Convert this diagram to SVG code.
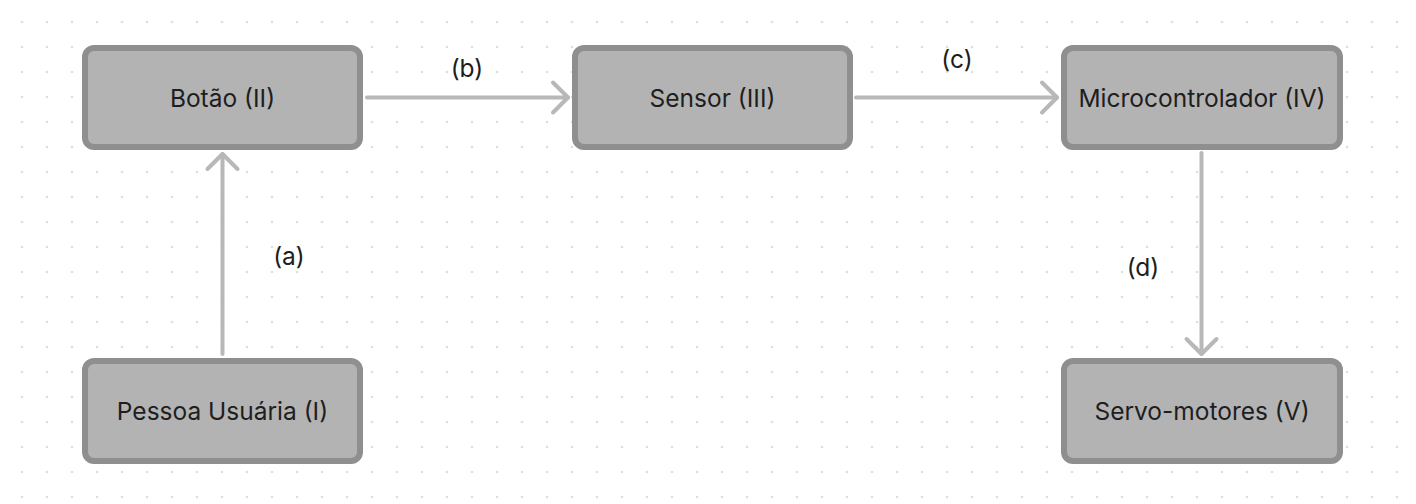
<svg xmlns="http://www.w3.org/2000/svg" width="1416" height="504" viewBox="0 0 1416 504">
  <style>
    .node rect { fill: #b3b3b3; stroke: #8f8f8f; stroke-width: 6; }
    text { font-family: Inter, "Noto Sans", "Liberation Sans", sans-serif; font-size: 24.5px; fill: #1e1e1e; text-anchor: middle; }
    .conn line { stroke: #b8b8b8; stroke-width: 4; stroke-linecap: round; }
  </style>
  <defs>
    <pattern id="dots" patternUnits="userSpaceOnUse" width="25" height="25">
      <circle cx="22" cy="22" r="1.3" fill="#dedede"/>
    </pattern>
    <marker id="arrow" markerUnits="userSpaceOnUse" viewBox="-20 -20 40 40" refX="0" refY="0" markerWidth="40" markerHeight="40" orient="auto">
      <path d="M-15,-15 L0,0 L-15,15" fill="none" stroke="#b8b8b8" stroke-width="4" stroke-linecap="round" stroke-linejoin="round"/>
    </marker>
  </defs>
  <rect width="1416" height="504" fill="#ffffff"/>
  <rect width="1416" height="504" fill="url(#dots)"/>

  <g id="connectors" class="conn">
    <line x1="222.5" y1="354" x2="222.5" y2="154" marker-end="url(#arrow)"/>
    <line x1="367" y1="97.5" x2="568" y2="97.5" marker-end="url(#arrow)"/>
    <line x1="856" y1="97.5" x2="1057" y2="97.5" marker-end="url(#arrow)"/>
    <line x1="1201.5" y1="153" x2="1201.5" y2="354" marker-end="url(#arrow)"/>
  </g>

  <g id="labels">
    <text x="289" y="264.5">(a)</text>
    <text x="467" y="76.5">(b)</text>
    <text x="957" y="67.5">(c)</text>
    <text x="1143" y="276">(d)</text>
  </g>

  <g id="node-botao" class="node">
    <rect x="85" y="48" width="275" height="99" rx="9"/>
    <text x="222.5" y="106.5">Botão (II)</text>
  </g>
  <g id="node-sensor" class="node">
    <rect x="575" y="48" width="275" height="99" rx="9"/>
    <text x="712.5" y="106.5">Sensor (III)</text>
  </g>
  <g id="node-micro" class="node">
    <rect x="1064" y="48" width="276" height="99" rx="9"/>
    <text x="1202" y="106.5">Microcontrolador (IV)</text>
  </g>
  <g id="node-pessoa" class="node">
    <rect x="85" y="361" width="275" height="100" rx="9"/>
    <text x="222.5" y="420">Pessoa Usuária (I)</text>
  </g>
  <g id="node-servo" class="node">
    <rect x="1064" y="361" width="276" height="100" rx="9"/>
    <text x="1202" y="420">Servo-motores (V)</text>
  </g>
</svg>
